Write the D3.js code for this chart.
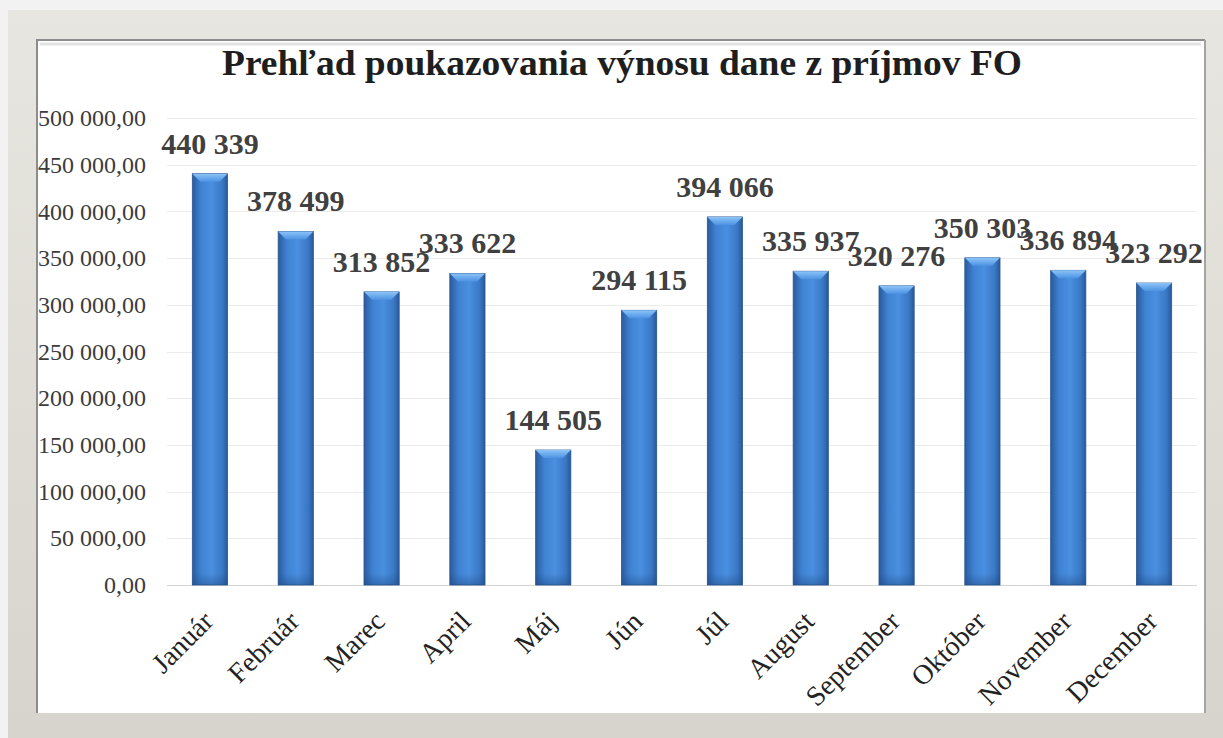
<!DOCTYPE html>
<html>
<head>
<meta charset="utf-8">
<script src="https://cdn.jsdelivr.net/npm/d3@7"></script>
<style>
	html, body { margin: 0; padding: 0; background: #f2f2f2; }
	svg { display: block; }
	text { font-family: "Liberation Serif", "Times New Roman", serif; }
</style>
</head>
<body>
<div id="main-view"></div>
<script>
var months = ["Január", "Február", "Marec", "April", "Máj", "Jún", "Júl", "August", "September", "Október", "November", "December"];
var values = [440339, 378499, 313852, 333622, 144505, 294115, 394066, 335937, 320276, 350303, 336894, 323292];
var yTicks = [0, 50000, 100000, 150000, 200000, 250000, 300000, 350000, 400000, 450000, 500000];
var title = "Prehľad poukazovania výnosu dane z príjmov FO";

var width = 1223,
	height = 738;

var plot = { left: 167, right: 1197, top: 118, bottom: 585 };

var svg = d3.select("#main-view").append("svg")
	.attr("width", width)
	.attr("height", height);

var defs = svg.append("defs");

// outer frame gradient
var frameGrad = defs.append("linearGradient")
	.attr("id", "frameGrad")
	.attr("x1", 0).attr("y1", 0).attr("x2", 0).attr("y2", 1);
frameGrad.append("stop").attr("offset", "0%").attr("stop-color", "#e8e6e0");
frameGrad.append("stop").attr("offset", "100%").attr("stop-color", "#d6d4cc");

// bar body gradient (horizontal, cylinder-ish)
var barGrad = defs.append("linearGradient")
	.attr("id", "barGrad")
	.attr("x1", 0).attr("y1", 0).attr("x2", 1).attr("y2", 0);
barGrad.append("stop").attr("offset", "0%").attr("stop-color", "#2a5b9e");
barGrad.append("stop").attr("offset", "25%").attr("stop-color", "#3f82d2");
barGrad.append("stop").attr("offset", "55%").attr("stop-color", "#4a8fe0");
barGrad.append("stop").attr("offset", "85%").attr("stop-color", "#3a78c4");
barGrad.append("stop").attr("offset", "100%").attr("stop-color", "#28599a");

var capGrad = defs.append("linearGradient")
	.attr("id", "capGrad")
	.attr("x1", 0).attr("y1", 0).attr("x2", 0).attr("y2", 1);
capGrad.append("stop").attr("offset", "0%").attr("stop-color", "#8cc4f8");
capGrad.append("stop").attr("offset", "100%").attr("stop-color", "#4d92e2");

var shadeGrad = defs.append("linearGradient")
	.attr("id", "shadeGrad")
	.attr("x1", 0).attr("y1", 0).attr("x2", 0).attr("y2", 1);
shadeGrad.append("stop").attr("offset", "0%").attr("stop-color", "#1f4a85").attr("stop-opacity", 0);
shadeGrad.append("stop").attr("offset", "100%").attr("stop-color", "#1f4a85").attr("stop-opacity", 0.45);

defs.append("clipPath").attr("id", "panelClip")
	.append("rect")
	.attr("x", 38).attr("y", 41)
	.attr("width", 1166).attr("height", 671);

// frame + panel
svg.append("rect")
	.attr("x", 8).attr("y", 10)
	.attr("width", width - 8).attr("height", height - 10)
	.attr("fill", "url(#frameGrad)");

svg.append("rect")
	.attr("x", 37).attr("y", 40)
	.attr("width", 1168).attr("height", 673)
	.attr("fill", "#ffffff");

// bevel lines of the panel
svg.append("path")
	.attr("d", "M37,713 L37,40 L1205,40")
	.attr("fill", "none")
	.attr("stroke", "#8c8c8c")
	.attr("stroke-width", 2);
svg.append("path")
	.attr("d", "M1205,40 L1205,713")
	.attr("fill", "none")
	.attr("stroke", "#a4a4a4")
	.attr("stroke-width", 2);
svg.append("path")
	.attr("d", "M40,44 L1201,44")
	.attr("fill", "none")
	.attr("stroke", "#e2e2e2")
	.attr("stroke-width", 3);

var chart = svg.append("g").attr("clip-path", "url(#panelClip)");

var x = d3.scaleBand()
	.domain(months)
	.range([plot.left, plot.right])
	.paddingInner(0.59)
	.paddingOuter(0.295);

var y = d3.scaleLinear()
	.domain([0, 500000])
	.range([plot.bottom, plot.top]);

var fmtTick = function(d) {
	return d3.format(",.2f")(d).replace(/,/g, " ").replace(".", ",");
};
var fmtLabel = function(d) {
	return d3.format(",")(d).replace(/,/g, " ");
};

// gridlines
chart.append("g")
	.selectAll("line")
	.data(yTicks)
	.enter().append("line")
	.attr("x1", plot.left)
	.attr("x2", plot.right)
	.attr("y1", function(d) { return Math.round(y(d)) + 0.5; })
	.attr("y2", function(d) { return Math.round(y(d)) + 0.5; })
	.attr("stroke", function(d) { return d === 0 ? "#d4d4d4" : "#ececec"; })
	.attr("stroke-width", 1);

// y axis
var yAxis = d3.axisLeft(y)
	.tickValues(yTicks)
	.tickFormat(fmtTick)
	.tickSize(0)
	.tickPadding(0);

var yG = chart.append("g")
	.attr("transform", "translate(146,0)")
	.call(yAxis);
yG.select(".domain").remove();
yG.selectAll("text")
	.attr("font-family", "'Liberation Serif', 'Times New Roman', serif")
	.attr("font-size", 24)
	.attr("fill", "#3c3c3c")
	.attr("dy", "0.32em");

// bars
var bars = chart.append("g")
	.selectAll("g.bar")
	.data(values)
	.enter().append("g")
	.attr("class", "bar");

bars.append("rect")
	.attr("x", function(d, i) { return x(months[i]); })
	.attr("y", function(d) { return y(d); })
	.attr("width", x.bandwidth())
	.attr("height", function(d) { return y(0) - y(d); })
	.attr("fill", "url(#barGrad)")
	.attr("stroke", "#2a5590")
	.attr("stroke-width", 0.8);

bars.append("rect")
	.attr("x", function(d, i) { return x(months[i]); })
	.attr("y", function(d) { return y(0) - 12; })
	.attr("width", x.bandwidth())
	.attr("height", 12)
	.attr("fill", "url(#shadeGrad)");

bars.append("path")
	.attr("d", function(d, i) {
		var x0 = x(months[i]),
			w = x.bandwidth(),
			t = y(d),
			b = 8;
		return "M" + x0 + "," + t + " L" + (x0 + w) + "," + t +
			" L" + (x0 + w - b) + "," + (t + b) + " L" + (x0 + b) + "," + (t + b) + " Z";
	})
	.attr("fill", "url(#capGrad)");

// value labels
chart.append("g")
	.selectAll("text")
	.data(values)
	.enter().append("text")
	.attr("x", function(d, i) { return x(months[i]) + x.bandwidth() / 2; })
	.attr("y", function(d) { return y(d) - 20; })
	.attr("text-anchor", "middle")
	.attr("font-size", 30)
	.attr("font-weight", "bold")
	.attr("fill", "#404040")
	.text(fmtLabel);

// x axis labels
chart.append("g")
	.selectAll("text")
	.data(months)
	.enter().append("text")
	.attr("transform", function(d) {
		return "translate(" + (x(d) + x.bandwidth() / 2 + 5) + "," + 623 + ") rotate(-45)";
	})
	.attr("text-anchor", "end")
	.attr("font-size", 28)
	.attr("fill", "#222222")
	.text(function(d) { return d; });

// title
svg.append("text")
	.attr("x", 622)
	.attr("y", 75)
	.attr("text-anchor", "middle")
	.attr("font-size", 35)
	.attr("font-weight", "bold")
	.attr("fill", "#1e1e1e")
	.attr("textLength", 800)
	.attr("lengthAdjust", "spacingAndGlyphs")
	.text(title);
</script>
</body>
</html>
